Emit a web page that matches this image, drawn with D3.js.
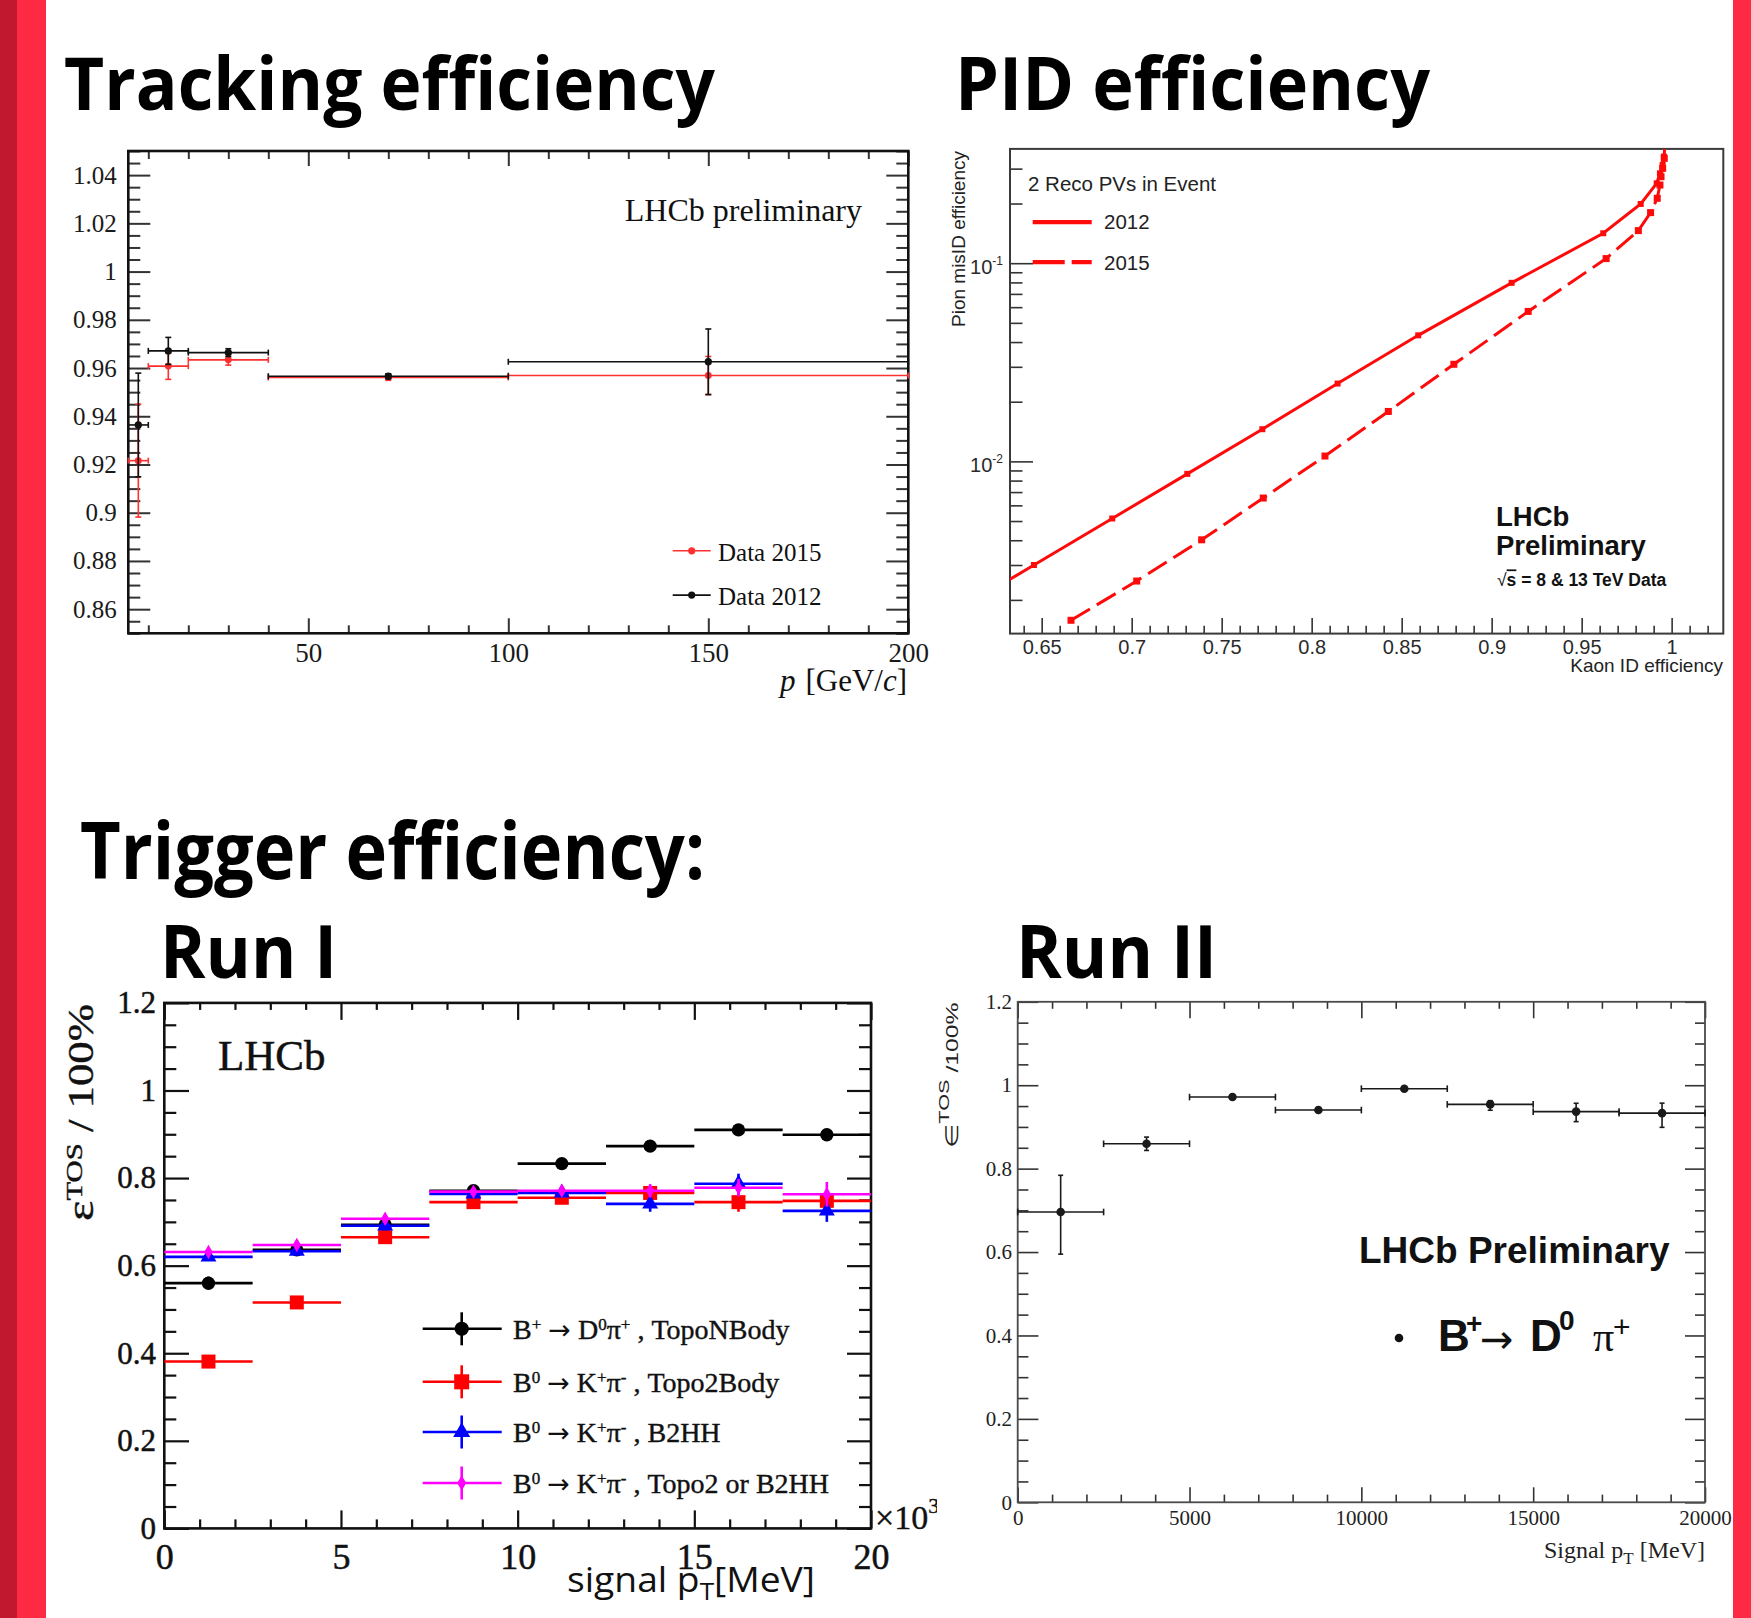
<!DOCTYPE html>
<html>
<head>
<meta charset="utf-8">
<script src="https://cdn.jsdelivr.net/npm/d3@7"></script>
<style>
body { margin: 0; background: #fff; }
svg { display: block; }
</style>
</head>
<body>
<svg id="fig" width="1751" height="1618"></svg>
<script>
// ---- values ----

// Tracking efficiency vs p [GeV/c]
var trkEdges = [5, 10, 20, 40, 100, 200]
var trkP = [7.5, 15, 30, 70, 150]
var trk2015 = [0.9216, 0.9608, 0.9634, 0.9561, 0.9569]
var trk2015Err = [0.0234, 0.0055, 0.0022, 0.0012, 0.0079]
var trk2012 = [0.9364, 0.9671, 0.9664, 0.9566, 0.9626]
var trk2012Err = [0.0215, 0.0056, 0.0016, 0.0010, 0.0136]
var trkXTicks = [50, 100, 150, 200]
var trkYTicks = [0.86, 0.88, 0.9, 0.92, 0.94, 0.96, 0.98, 1, 1.02, 1.04]

// PID: pion misID vs kaon ID efficiency
var pidKaon2012 = [0.620, 0.6457, 0.6892, 0.7309, 0.7726, 0.8144, 0.8592, 0.9111, 0.9620, 0.9828, 0.9917, 0.9935, 0.9950, 0.9957, 0.9975]
var pidPion2012 = [0.00218, 0.00300, 0.00515, 0.00865, 0.01453, 0.0247, 0.04325, 0.0796, 0.1416, 0.199, 0.253, 0.284, 0.313, 0.345, 0.50]
var pidKaon2015 = [0.6663, 0.7028, 0.7389, 0.7731, 0.8074, 0.8426, 0.8790, 0.9203, 0.9636, 0.9815, 0.9883, 0.9920, 0.9935, 0.9941, 0.9950, 0.9959, 0.9972]
var pidPion2015 = [0.001578, 0.00249, 0.00402, 0.00653, 0.01064, 0.01786, 0.0309, 0.0571, 0.1055, 0.146, 0.180, 0.2126, 0.248, 0.273, 0.301, 0.338, 0.48]
var pidXTicks = [0.65, 0.7, 0.75, 0.8, 0.85, 0.9, 0.95, 1]
var pidYTicks = [0.01, 0.1]
var pidYExp = ["-2", "-1"]

// Trigger efficiency, Run I (x in units of 10^3 MeV)
var run1Edges = [0, 2.5, 5, 7.5, 10, 12.5, 15, 17.5, 20]
var run1TopoN = [0.560, 0.636, 0.693, 0.771, 0.833, 0.873, 0.910, 0.899]
var run1TopoNErr = [0.015, 0.006, 0.006, 0.006, 0.006, 0.007, 0.008, 0.008]
var run1Topo2 = [0.381, 0.516, 0.665, 0.745, 0.755, 0.766, 0.745, 0.748]
var run1Topo2Err = [0.006, 0.006, 0.006, 0.006, 0.010, 0.012, 0.022, 0.022]
var run1B2HH = [0.620, 0.633, 0.691, 0.764, 0.766, 0.741, 0.787, 0.725]
var run1B2HHErr = [0.008, 0.006, 0.006, 0.006, 0.010, 0.018, 0.023, 0.025]
var run1Or = [0.631, 0.647, 0.707, 0.769, 0.771, 0.771, 0.778, 0.763]
var run1OrErr = [0.006, 0.006, 0.006, 0.006, 0.010, 0.015, 0.020, 0.028]
var run1XTicks = [0, 5, 10, 15, 20]
var run1YTicks = [0, 0.2, 0.4, 0.6, 0.8, 1, 1.2]
// label pieces: [text, kind] kind 0 plain, 1 superscript, 2 arrow
var run1Legend = [
  [["B", 0], ["+", 1], [" ", 0], ["\u2192", 2], [" D", 0], ["0", 1], ["\u03c0", 0], ["+", 1], [" , TopoNBody", 0]],
  [["B", 0], ["0", 1], [" ", 0], ["\u2192", 2], [" K", 0], ["+", 1], ["\u03c0", 0], ["-", 1], [" , Topo2Body", 0]],
  [["B", 0], ["0", 1], [" ", 0], ["\u2192", 2], [" K", 0], ["+", 1], ["\u03c0", 0], ["-", 1], [" , B2HH", 0]],
  [["B", 0], ["0", 1], [" ", 0], ["\u2192", 2], [" K", 0], ["+", 1], ["\u03c0", 0], ["-", 1], [" , Topo2 or B2HH", 0]]
]

// Trigger efficiency, Run II (MeV)
var run2Edges = [0, 2500, 5000, 7500, 10000, 12500, 15000, 17500, 20000]
var run2Eff = [0.696, 0.8596, 0.9716, 0.9404, 0.9917, 0.954, 0.9367, 0.933]
var run2ErrHi = [0.088, 0.016, 0.005, 0.004, 0.004, 0.009, 0.020, 0.024]
var run2ErrLo = [0.101, 0.016, 0.005, 0.004, 0.004, 0.014, 0.024, 0.034]
var run2XTicks = [0, 5000, 10000, 15000, 20000]
var run2YTicks = [0, 0.2, 0.4, 0.6, 0.8, 1, 1.2]

var SERIF = "'Liberation Serif', 'Times New Roman', serif"
var SANS = "'Liberation Sans', Arial, sans-serif"
var TITLE = "'Open Sans', sans-serif"
var ARROW = "'DejaVu Sans', sans-serif"

var svg = d3.select("#fig")
var defs = svg.append("defs")
svg.append("rect").attr("width", 1751).attr("height", 1618).attr("fill", "#fff")
svg.append("rect").attr("x", 0).attr("width", 17).attr("height", 1618).attr("fill", "#c1182f")
svg.append("rect").attr("x", 17).attr("width", 29).attr("height", 1618).attr("fill", "#fe2a44")
svg.append("rect").attr("x", 1733).attr("width", 18).attr("height", 1618).attr("fill", "#fe2a44")

function title(txt, x, y, size, len) {
  svg.append("text")
    .attr("x", x).attr("y", y)
    .attr("font-family", TITLE).attr("font-weight", 700).attr("font-size", size)
    .attr("textLength", len).attr("lengthAdjust", "spacingAndGlyphs")
    .text(txt)
}
title("Tracking efficiency", 64, 110, 74, 651)
title("PID efficiency", 955, 110, 74, 475)
title("Trigger efficiency:", 80, 879, 78, 625)
title("Run I", 160, 978, 74, 177)
title("Run II", 1016, 978, 74, 201)

function minors(lo, hi, step, skip) {
  return d3.range(Math.round((hi - lo) / step) + 1)
    .map(i => +(lo + i * step).toFixed(6))
    .filter(v => skip.indexOf(v) < 0)
}

// one row of ticks on one side of a frame
function tickRow(g, axis, vals, size, fmt, pad) {
  g.call(axis.tickValues(vals).tickSize(size).tickPadding(pad || 3)
    .tickFormat(fmt || (() => "")))
  g.select(".domain").remove()
  return g
}

function axesBox(g, x, y, o) {
  var xa = x.range()[0], xb = x.range()[1], ya = y.range()[0], yb = y.range()[1]
  var sides = [
    [d3.axisBottom, x, "translate(0," + ya + ")", o.xMaj, o.xMin, o.bLen, o.xFmt, o.xPad, o.xSize],
    [d3.axisTop, x, "translate(0," + yb + ")", o.xMaj, o.xMin, o.tLen],
    [d3.axisLeft, y, "translate(" + xa + ",0)", o.yMaj, o.yMin, o.lLen, o.yFmt, o.yPad, o.ySize],
    [d3.axisRight, y, "translate(" + xb + ",0)", o.yMaj, o.yMin, o.rLen]
  ]
  sides.forEach(s => {
    if (!s[5]) return
    var gm = g.append("g").attr("transform", s[2])
    tickRow(gm, s[0](s[1]), s[4], -s[5][1])
    var gM = g.append("g").attr("transform", s[2])
    tickRow(gM, s[0](s[1]), s[3], -s[5][0], s[6], s[7])
    ;[gm, gM].forEach(t => {
      t.attr("color", o.tickColor)
      t.selectAll("line").attr("stroke-width", o.tickW)
      t.selectAll("text").attr("fill", o.labelColor)
        .attr("font-family", o.font).attr("font-size", s[8] || 10)
        .attr("stroke", o.labelStroke || "none").attr("stroke-width", o.labelStroke ? 0.5 : 0)
      if (!s[6]) t.selectAll("text").remove()
    })
    if (s[6]) gm.selectAll("text").remove()
  })
  g.append("rect")
    .attr("x", xa).attr("y", yb).attr("width", xb - xa).attr("height", ya - yb)
    .attr("fill", "none").attr("stroke", o.frameColor).attr("stroke-width", o.frameW)
}

// histogram-style points: horizontal bin bar, vertical error bar, caps and marker
function drawBins(g, x, y, edges, xs, vals, errLo, errHi, st) {
  var row = g.append("g").attr("stroke", st.color).attr("stroke-width", st.lw).attr("fill", "none")
  row.selectAll("line.h").data(vals).join("line").attr("class", "h")
    .attr("x1", (d, i) => x(edges[i])).attr("x2", (d, i) => x(edges[i + 1]))
    .attr("y1", d => y(d)).attr("y2", d => y(d))
  row.selectAll("line.v").data(vals).join("line").attr("class", "v")
    .attr("x1", (d, i) => x(xs[i])).attr("x2", (d, i) => x(xs[i]))
    .attr("y1", (d, i) => y(d - errLo[i])).attr("y2", (d, i) => y(d + errHi[i]))
  if (st.capV) {
    ;[-1, 1].forEach(sg => {
      row.selectAll("line.cv" + (sg + 1)).data(vals).join("line").attr("class", "cv" + (sg + 1))
        .attr("x1", (d, i) => x(xs[i]) - st.capV).attr("x2", (d, i) => x(xs[i]) + st.capV)
        .attr("y1", (d, i) => y(sg > 0 ? d + errHi[i] : d - errLo[i]))
        .attr("y2", (d, i) => y(sg > 0 ? d + errHi[i] : d - errLo[i]))
    })
  }
  if (st.capH) {
    ;[0, 1].forEach(k => {
      row.selectAll("line.ch" + k).data(vals).join("line").attr("class", "ch" + k)
        .attr("x1", (d, i) => x(edges[i + k])).attr("x2", (d, i) => x(edges[i + k]))
        .attr("y1", d => y(d) - st.capH).attr("y2", d => y(d) + st.capH)
    })
  }
  g.selectAll(null).data(vals).join("path")
    .attr("d", d3.symbol(st.symbol, st.size)())
    .attr("transform", (d, i) => "translate(" + x(xs[i]) + "," + y(d) + ")")
    .attr("fill", st.color)
}

// ================= Tracking efficiency =================
var p1 = svg.append("g")
var x1 = d3.scaleLinear().domain([5, 200]).range([128.3, 908.3])
var y1 = d3.scaleLinear().domain([0.85, 1.05]).range([633.3, 151])
axesBox(p1, x1, y1, {
  xMaj: trkXTicks, xMin: minors(10, 200, 10, trkXTicks),
  yMaj: trkYTicks, yMin: minors(0.85, 1.05, 0.005, trkYTicks),
  bLen: [15, 8], tLen: [15, 8], lLen: [22, 12], rLen: [22, 12],
  xFmt: d3.format("d"), yFmt: d3.format("~g"), xPad: 10, yPad: 11.6,
  xSize: 27, ySize: 25, font: SERIF, tickColor: "#333", tickW: 2,
  labelColor: "#1a1a1a", frameColor: "#111", frameW: 2.6
})
drawBins(p1, x1, y1, trkEdges, trkP, trk2015, trk2015Err, trk2015Err,
  { color: "#ff3030", lw: 1.6, capV: 3, capH: 3, symbol: d3.symbolCircle, size: 38 })
drawBins(p1, x1, y1, trkEdges, trkP, trk2012, trk2012Err, trk2012Err,
  { color: "#111", lw: 1.6, capV: 3, capH: 3, symbol: d3.symbolCircle, size: 42 })

p1.append("text").attr("x", 862).attr("y", 220.7).attr("text-anchor", "end")
  .attr("font-family", SERIF).attr("font-size", 32).attr("fill", "#111").text("LHCb preliminary")
var trkLeg = [["Data 2015", "#ff3030", 550.8], ["Data 2012", "#111", 595.1]]
trkLeg.forEach(l => {
  p1.append("line").attr("x1", 672.7).attr("x2", 710.7).attr("y1", l[2]).attr("y2", l[2])
    .attr("stroke", l[1]).attr("stroke-width", 1.6)
  p1.append("circle").attr("cx", 691.7).attr("cy", l[2]).attr("r", 3.6).attr("fill", l[1])
  p1.append("text").attr("x", 718).attr("y", l[2] + 10).attr("font-family", SERIF)
    .attr("font-size", 25).attr("fill", "#111").text(l[0])
})
var t1 = p1.append("text").attr("x", 907).attr("y", 691).attr("text-anchor", "end")
  .attr("font-family", SERIF).attr("font-size", 31).attr("fill", "#111")
t1.append("tspan").attr("font-style", "italic").text("p")
t1.append("tspan").attr("dx", 10).text("[GeV/")
t1.append("tspan").attr("font-style", "italic").text("c")
t1.append("tspan").text("]")

// ================= PID efficiency =================
var p2 = svg.append("g")
var x2 = d3.scaleLinear().domain([0.6324, 1.0287]).range([1010, 1723.3])
var y2 = d3.scaleLog().domain([0.001352, 0.3773]).range([633.6, 148.9])
var pidMinorY = []
;[0.001, 0.01, 0.1].forEach(dec => d3.range(2, 10).forEach(m => {
  var v = +(m * dec).toFixed(6)
  if (v > y2.domain()[0] && v < y2.domain()[1]) pidMinorY.push(v)
}))
axesBox(p2, x2, y2, {
  xMaj: pidXTicks, xMin: minors(0.64, 1.02, 0.01, pidXTicks),
  yMaj: pidYTicks, yMin: pidMinorY,
  bLen: [15.7, 7.9], lLen: [23, 12.5],
  xFmt: d3.format("~g"), xPad: 5.8, xSize: 20, font: SANS,
  tickColor: "#333", tickW: 1.6, labelColor: "#2a2a2a", frameColor: "#3a3a3a", frameW: 2
})
pidYTicks.forEach((v, i) => {
  var t = p2.append("text").attr("x", 1003).attr("y", y2(v) + 10.5).attr("text-anchor", "end")
    .attr("font-family", SANS).attr("font-size", 20).attr("fill", "#2a2a2a")
  t.append("tspan").text("10")
  t.append("tspan").attr("dy", -9).attr("font-size", 12).text(pidYExp[i])
})
defs.append("clipPath").attr("id", "pidclip").append("rect")
  .attr("x", 1010).attr("y", 148.9).attr("width", 713.3).attr("height", 484.7)
var pidCurves = p2.append("g").attr("clip-path", "url(#pidclip)")
var pidLine = d3.line().x(d => x2(d[0])).y(d => y2(d[1]))
var c2012 = d3.zip(pidKaon2012, pidPion2012)
var c2015 = d3.zip(pidKaon2015, pidPion2015)
pidCurves.append("path").attr("d", pidLine(c2012)).attr("fill", "none")
  .attr("stroke", "#ff0a0a").attr("stroke-width", 3)
pidCurves.append("path").attr("d", pidLine(c2015)).attr("fill", "none")
  .attr("stroke", "#ff0a0a").attr("stroke-width", 3).attr("stroke-dasharray", "22,8")
pidCurves.selectAll(null).data(c2012).join("rect")
  .attr("x", d => x2(d[0]) - 3).attr("y", d => y2(d[1]) - 3)
  .attr("width", 6).attr("height", 6).attr("fill", "#ff0a0a")
pidCurves.selectAll(null).data(c2015).join("rect")
  .attr("x", d => x2(d[0]) - 3.5).attr("y", d => y2(d[1]) - 3.5)
  .attr("width", 7).attr("height", 7).attr("fill", "#ff0a0a")

p2.append("text").attr("x", 1028).attr("y", 191).attr("font-family", SANS)
  .attr("font-size", 20.5).attr("fill", "#222").text("2 Reco PVs in Event")
p2.append("line").attr("x1", 1032.7).attr("x2", 1091.7).attr("y1", 222.1).attr("y2", 222.1)
  .attr("stroke", "#ff0a0a").attr("stroke-width", 4.2)
p2.append("line").attr("x1", 1032.7).attr("x2", 1091.7).attr("y1", 262.1).attr("y2", 262.1)
  .attr("stroke", "#ff0a0a").attr("stroke-width", 4.2).attr("stroke-dasharray", "32,7")
p2.append("text").attr("x", 1104).attr("y", 229.3).attr("font-family", SANS)
  .attr("font-size", 20.5).attr("fill", "#222").text("2012")
p2.append("text").attr("x", 1104).attr("y", 270.4).attr("font-family", SANS)
  .attr("font-size", 20.5).attr("fill", "#222").text("2015")
p2.append("text").attr("x", 1496).attr("y", 525.7).attr("font-family", SANS)
  .attr("font-weight", 700).attr("font-size", 27.5).attr("fill", "#111").text("LHCb")
p2.append("text").attr("x", 1496).attr("y", 555).attr("font-family", SANS)
  .attr("font-weight", 700).attr("font-size", 27.5).attr("fill", "#111").text("Preliminary")
var rs = p2.append("text").attr("x", 1497).attr("y", 586.4).attr("font-family", SANS)
  .attr("font-weight", 700).attr("font-size", 17.5).attr("fill", "#111")
rs.append("tspan").attr("font-weight", 400).text("\u221a")
rs.append("tspan").attr("text-decoration", "overline").text("s")
rs.append("tspan").text(" = 8 & 13 TeV Data")
p2.append("text").attr("x", 1723).attr("y", 672).attr("text-anchor", "end")
  .attr("font-family", SANS).attr("font-size", 19).attr("fill", "#222").text("Kaon ID efficiency")
p2.append("text").attr("transform", "translate(965,151) rotate(-90)").attr("text-anchor", "end")
  .attr("font-family", SANS).attr("font-size", 19).attr("fill", "#222").text("Pion misID efficiency")

// ================= Run I =================
var p3 = svg.append("g")
var x3 = d3.scaleLinear().domain([0, 20]).range([164.3, 871])
var y3 = d3.scaleLinear().domain([0, 1.2]).range([1528.4, 1002.9])
axesBox(p3, x3, y3, {
  xMaj: run1XTicks, xMin: minors(0, 20, 1, run1XTicks),
  yMaj: run1YTicks, yMin: minors(0, 1.2, 0.05, run1YTicks),
  bLen: [18, 9], tLen: [17, 7], lLen: [24.7, 12], rLen: [24, 12],
  xFmt: d3.format("~g"), yFmt: d3.format("~g"), xPad: 14.6, yPad: 8.3,
  xSize: 36, ySize: 31, font: SERIF, tickColor: "#111", tickW: 2.2,
  labelColor: "#111", labelStroke: "#111", frameColor: "#111", frameW: 2.6
})
var run1X = run1Edges.slice(1).map((e, i) => (e + run1Edges[i]) / 2)
var run1Series = [
  [run1TopoN, run1TopoNErr, "#000", d3.symbolCircle, 140],
  [run1Topo2, run1Topo2Err, "#ff0000", d3.symbolSquare, 196],
  [run1B2HH, run1B2HHErr, "#0000ff", d3.symbolTriangle, 110],
  [run1Or, run1OrErr, "#ff00ff", d3.symbolDiamond, 60]
]
run1Series.forEach(s => {
  drawBins(p3, x3, y3, run1Edges, run1X, s[0], s[1], s[1],
    { color: s[2], lw: 2.6, symbol: s[3], size: s[4] })
})
var run1LegY = [1328.8, 1381.8, 1432, 1483]
run1Series.forEach((s, i) => {
  var ly = run1LegY[i]
  p3.append("line").attr("x1", 422.7).attr("x2", 501.7).attr("y1", ly).attr("y2", ly)
    .attr("stroke", s[2]).attr("stroke-width", 2.6)
  p3.append("line").attr("x1", 461.7).attr("x2", 461.7).attr("y1", ly - 16.5).attr("y2", ly + 16.5)
    .attr("stroke", s[2]).attr("stroke-width", 2.6)
  p3.append("path").attr("d", d3.symbol(s[3], s[4] * 1.15)())
    .attr("transform", "translate(461.7," + ly + ")").attr("fill", s[2])
  var t = p3.append("text").attr("x", 513).attr("y", ly + 10).attr("font-family", SERIF)
    .attr("font-size", 28).attr("fill", "#111").attr("stroke", "#111").attr("stroke-width", 0.4)
  run1Legend[i].forEach(part => {
    if (part[1] === 1) t.append("tspan").attr("font-size", 17).attr("baseline-shift", "super").text(part[0])
    else if (part[1] === 2) t.append("tspan").attr("font-family", ARROW).attr("font-size", 27)
      .attr("stroke-width", 0).text(part[0])
    else t.append("tspan").text(part[0])
  })
})
p3.append("text").attr("x", 218).attr("y", 1070.4).attr("font-family", SERIF)
  .attr("font-size", 43).attr("fill", "#111").attr("stroke", "#111").attr("stroke-width", 0.5).text("LHCb")
defs.append("clipPath").attr("id", "r1clip").append("rect")
  .attr("x", 860).attr("y", 1460).attr("width", 77).attr("height", 90)
var ex = p3.append("text").attr("x", 875).attr("y", 1528.5).attr("clip-path", "url(#r1clip)")
  .attr("font-family", SERIF).attr("font-size", 34).attr("fill", "#111")
  .attr("stroke", "#111").attr("stroke-width", 0.4)
ex.append("tspan").text("\u00d710")
ex.append("tspan").attr("font-size", 22).attr("dy", -16).text("3")
var xt3 = p3.append("text").attr("x", 567).attr("y", 1592).attr("font-family", TITLE)
  .attr("font-size", 34).attr("fill", "#111").attr("textLength", 248).attr("lengthAdjust", "spacingAndGlyphs")
xt3.append("tspan").text("signal p")
xt3.append("tspan").attr("font-size", 24).attr("dy", 8).text("T")
xt3.append("tspan").attr("dy", -8).text("[MeV]")
var yt3 = p3.append("text").attr("transform", "translate(93,1221) rotate(-90)")
  .attr("font-family", SERIF).attr("font-size", 35).attr("fill", "#111")
  .attr("stroke", "#111").attr("stroke-width", 0.4)
  .attr("textLength", 217).attr("lengthAdjust", "spacingAndGlyphs")
yt3.append("tspan").attr("font-size", 38).text("\u03b5")
yt3.append("tspan").attr("font-size", 24).attr("dy", -11).text("TOS")
yt3.append("tspan").attr("dy", 11).text(" / 100%")

// ================= Run II =================
var p4 = svg.append("g")
var x4 = d3.scaleLinear().domain([0, 20000]).range([1017.7, 1705])
var y4 = d3.scaleLinear().domain([0, 1.2]).range([1502.3, 1001.8])
axesBox(p4, x4, y4, {
  xMaj: run2XTicks, xMin: minors(0, 20000, 1000, run2XTicks),
  yMaj: run2YTicks, yMin: minors(0, 1.2, 0.05, run2YTicks),
  bLen: [15, 7.7], tLen: [16.5, 7], lLen: [20.7, 10.7], rLen: [20, 10],
  xFmt: d3.format("d"), yFmt: d3.format("~g"), xPad: 7.8, yPad: 5.7,
  xSize: 21, ySize: 21, font: SERIF, tickColor: "#333", tickW: 1.6,
  labelColor: "#222", frameColor: "#4a4a4a", frameW: 1.8
})
var run2X = run2Edges.slice(1).map((e, i) => (e + run2Edges[i]) / 2)
drawBins(p4, x4, y4, run2Edges, run2X, run2Eff, run2ErrLo, run2ErrHi,
  { color: "#1a1a1a", lw: 1.6, capV: 2.5, capH: 3.3, symbol: d3.symbolCircle, size: 58 })

p4.append("text").attr("x", 1359).attr("y", 1263.2).attr("font-family", SANS)
  .attr("font-weight", 700).attr("font-size", 37).attr("fill", "#111").text("LHCb Preliminary")
p4.append("circle").attr("cx", 1399).attr("cy", 1338).attr("r", 4.3).attr("fill", "#111")
// B+ -> D0 pi+ : one text, pieces placed where the slide has them
var decay = [
  ["B", 1438, 1351.2, SANS, 700, 44],
  ["+", 1466, 1333, SANS, 700, 28],
  ["\u2192", 1480, 1353, ARROW, 400, 40],
  ["D", 1530, 1351.2, SANS, 700, 44],
  ["0", 1559, 1330, SANS, 700, 28],
  ["\u03c0", 1593, 1351.2, SERIF, 400, 42],
  ["+", 1613, 1337, SANS, 400, 30]
]
var dt = p4.append("text").attr("fill", "#111")
decay.forEach(d => {
  dt.append("tspan").attr("x", d[1]).attr("y", d[2]).attr("font-family", d[3])
    .attr("font-weight", d[4]).attr("font-size", d[5]).text(d[0])
})
var xt4 = p4.append("text").attr("x", 1705).attr("y", 1557.8).attr("text-anchor", "end")
  .attr("font-family", SERIF).attr("font-size", 24).attr("fill", "#222")
xt4.append("tspan").text("Signal p")
xt4.append("tspan").attr("font-size", 17).attr("dy", 6).text("T")
xt4.append("tspan").attr("dy", -6).text(" [MeV]")
var yt4 = p4.append("text").attr("transform", "translate(958,1148.4) rotate(-90)")
  .attr("font-family", SANS).attr("font-size", 16).attr("fill", "#222")
  .attr("textLength", 146).attr("lengthAdjust", "spacingAndGlyphs")
yt4.append("tspan").attr("font-size", 18).text("\u2208")
yt4.append("tspan").attr("font-size", 14).attr("dy", -9).text("TOS")
yt4.append("tspan").attr("dy", 9).text(" /100%")
</script>
</body>
</html>
